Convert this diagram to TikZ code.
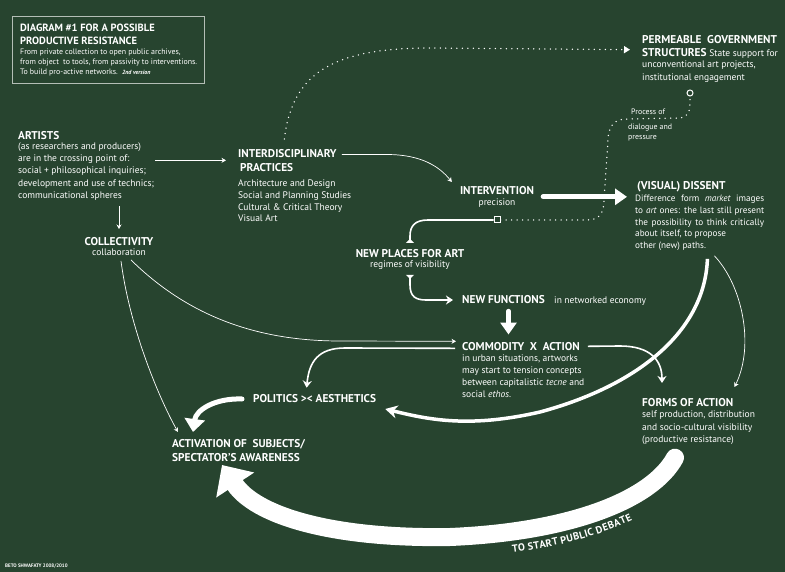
\documentclass[tikz,border=0pt]{standalone}
\usepackage{fontspec}
\setmainfont{PT Sans}
\usetikzlibrary{arrows.meta, decorations.text}
\definecolor{board}{HTML}{27442F}
\definecolor{frameline}{HTML}{B4BEB6}

\begin{document}
\begin{tikzpicture}[x=1pt, y=-1pt, >={Stealth[length=4.5pt, width=5pt]},
    head/.style={text=white, inner sep=0pt, anchor=north west, align=left, font=\fontsize{11.3}{14}\selectfont\bfseries},
    body/.style={text=white, inner sep=0pt, anchor=north west, align=left, font=\fontsize{9.5}{12.2}\selectfont},
    hairline/.style={draw=white, line width=0.7pt, ->},
    midline/.style={draw=white, line width=1.6pt},
    arcline/.style={draw=white, line width=3.5pt, -{Stealth[length=12pt, width=13pt]}},
    fatline/.style={draw=white, line width=5pt, line cap=round, -{Triangle[length=12pt, width=16pt]}},
    dotline/.style={draw=white, line width=1.5pt, line cap=round, dash pattern=on 0pt off 5.5pt},
    flaretip/.tip={Triangle[reversed, length=4pt, width=8pt]},
    midtip/.tip={Stealth[length=7pt, width=9pt]}]

\fill[board] (0,0) rectangle (785,572);

% title block
\node[draw=frameline, line width=0.6pt, minimum width=192pt, minimum height=67pt, inner sep=0pt, anchor=north west] (titlebox) at (12,16) {};
\node[head, font=\fontsize{10.5}{13}\selectfont\bfseries] (title) at (20,24) {DIAGRAM \#1 FOR A POSSIBLE\\PRODUCTIVE RESISTANCE};
\node[body, font=\fontsize{7.9}{10}\selectfont] (subtitle) at (20,48.5) {From private collection to open public archives,\\from object\ \ to tools, from passivity to interventions.\\To build pro-active networks.\ \ {\fontsize{6}{10}\selectfont\bfseries\itshape 2nd version}};

% left column
\node[head] (artists) at (18,131) {ARTISTS};
\node[body] (artistsbody) at (18,142.5) {(as researchers and producers)\\are in the crossing point of:\\social + philosophical inquiries;\\development and use of technics;\\communicational spheres};
\node[head, anchor=north] (collect) at (119,237) {COLLECTIVITY};
\node[body, anchor=north] (collab) at (119,248.7) {collaboration};

% practices and intervention
\node[head] (interd) at (238,149) {INTERDISCIPLINARY\\\hspace*{2pt}PRACTICES};
\node[body, font=\fontsize{9.5}{11.7}\selectfont] (fields) at (238,179.7) {Architecture and Design\\Social and Planning Studies\\Cultural \& Critical Theory\\Visual Art};
\node[head, anchor=north] (interv) at (497,186) {INTERVENTION};
\node[body, anchor=north] (precision) at (497,198.7) {precision};

% dissent and government
\node[head] (dissent) at (637,181.7) {(VISUAL) DISSENT};
\node[body, font=\fontsize{9.2}{11.8}\selectfont] (dissentbody) at (635,194.7) {\makebox[129pt][s]{Difference form \textit{market} images}\\\makebox[129pt][s]{to \textit{art} ones: the last still present}\\\makebox[129pt][s]{the possibility to think critically}\\about itself, to propose\\other (new) paths.};
\node[head, font=\fontsize{11.3}{13}\selectfont\bfseries] (gov) at (642,35) {PERMEABLE\ \ GOVERNMENT\\STRUCTURES {\mdseries\fontsize{9.5}{13}\selectfont State support for}};
\node[body, font=\fontsize{9.5}{12.5}\selectfont] (govbody) at (642,60.7) {unconventional art projects,\\institutional engagement};
\node[circle, draw=white, fill=board, line width=1pt, minimum size=6pt, inner sep=0pt] (govdot) at (690,93) {};
\node[body, font=\fontsize{7.9}{9}\selectfont, anchor=west] (process) at (631,112) {Process of};
\node[body, font=\fontsize{7.9}{9.5}\selectfont] (dialogue) at (628,124) {dialogue and\\pressure};

% middle chain
\node[draw=white, fill=board, line width=1pt, minimum size=6pt, inner sep=0pt] (joint) at (497,220) {};
\node[head, anchor=north] (places) at (410,249) {NEW PLACES FOR ART};
\node[body, anchor=north] (regimes) at (410,260.7) {regimes of visibility};
\node[head, anchor=west] (functions) at (462,300) {NEW FUNCTIONS};
\node[body, anchor=base west] (economy) at ([xshift=9pt]functions.base east) {in networked economy};
\node[head] (commodity) at (462,342) {COMMODITY\ \ X\ \ ACTION};
\node[body, font=\fontsize{9.5}{12}\selectfont] (urban) at (462,354.7) {in urban situations, artworks\\may start to tension concepts\\between capitalistic \textit{tecne} and\\social \textit{ethos}.};
\node[head, anchor=west] (politics) at (253,399) {POLITICS >< AESTHETICS};
\node[head] (activation) at (172,439) {ACTIVATION OF\ \ SUBJECTS/\\SPECTATOR’S AWARENESS};
\node[head] (forms) at (642,398) {FORMS OF ACTION};
\node[body, font=\fontsize{9.5}{12.5}\selectfont] (formsbody) at (642,410.7) {self production, distribution\\and socio-cultural visibility\\(productive resistance)};

\node[text=white, font=\fontsize{5}{6}\selectfont\bfseries, anchor=west, inner sep=0pt] (credit) at (5,566) {BETO SHWAFATY 2008/2010};

% connectors
\draw[hairline, shorten <=1pt, shorten >=12pt] (artistsbody.east |- interd.west) -- (interd.west);
\draw[hairline, shorten <=6pt, shorten >=8pt] (collect.north |- artistsbody.south) -- (collect.north);
\draw[hairline] ([shift={(5,5.5)}]interd.north east) -- ++(45,0) .. controls +(35,0) and +(-12,-15) .. ([shift={(-8,-4)}]interv.north west);
\path ([shift={(9,6.5)}]interv.east) coordinate (fatstart);
\draw[fatline, shorten >=10pt] (fatstart) -- (fatstart -| dissent.west);

\draw[dotline, -{Triangle[length=6pt, width=7pt]}] ([shift={(-3,-10)}]interd.north) .. controls (292,75) and (330,48) .. (430,48) -- ([shift={(-12,3)}]gov.west);
\draw[dotline] (joint.east) -- (588,220) .. controls (600,220) and (604,212) .. (604,200) -- (608,140) .. controls (609,125) and (614,119) .. (628,119) -- (678,118) .. controls (688,118) and (690,112) .. (690,103) -- (govdot.south);

\draw[midline, -flaretip] (joint.west) -- (428,220) .. controls (415,220) and (410,226) .. (410,236) -- ([shift={(0,-6)}]places.north);
\draw[midline, flaretip-midtip] ([shift={(0,5)}]regimes.south) -- ++(0,10) .. controls +(0,12) and +(-10,0) .. (426,300) -- ([xshift=-9pt]functions.west);
\path ([shift={(5,7)}]functions.south) coordinate (downstart);
\draw[fatline, shorten >=7.5pt] (downstart) -- (downstart |- commodity.north);

\draw[hairline] ([shift={(12,4)}]collab.south) .. controls (190,318) and (260,341) .. (340,341) -- ([shift={(-6,-5)}]commodity.west);
\draw[hairline] ([shift={(2,5)}]collab.south) .. controls (130,330) and (160,400) .. ([shift={(6,-7)}]activation.north west);
\draw[midline, -midtip] ([shift={(-7,2)}]commodity.west) -- (345,348) .. controls (318,348) and (309,362) .. ([shift={(-8,-7)}]politics.north);
\draw[fatline, -{Triangle[length=13pt, width=20pt]}] ([xshift=-11pt]politics.west) .. controls (215,398) and (196,410) .. ([shift={(21,-7)}]activation.north west);
\draw[midline, -midtip] ([xshift=8pt]commodity.east) -- (620,346) .. controls (650,346) and (662,360) .. ([shift={(20,-15)}]forms.north west);

\draw[arcline] ([shift={(-57,8)}]dissentbody.south east) .. controls (705,330) and (640,385) .. (540,412) .. controls (470,428) and (430,420) .. ([shift={(9,10)}]politics.east);
\draw[hairline] ([shift={(-50,5)}]dissentbody.south east) .. controls (742,285) and (755,345) .. ([shift={(1,-11)}]forms.north east);

% public debate
\draw[draw=white, line width=18pt, line cap=round, -{Triangle[length=24pt, width=44pt]}] ([shift={(33,47)}]formsbody.north west) .. controls (652,500) and (570,532) .. (450,537) .. controls (330,539) and (255,515) .. ([shift={(50,26)}]activation.north west);
\path[decorate, decoration={text along path, text color=white, raise=-21pt, text align={left, left indent=60pt},
    text={|\fontsize{10.3}{11}\selectfont\bfseries|TO START PUBLIC DEBATE}}] (450,537) .. controls (570,532) and (652,500) .. (675,458);

\end{tikzpicture}
\end{document}
